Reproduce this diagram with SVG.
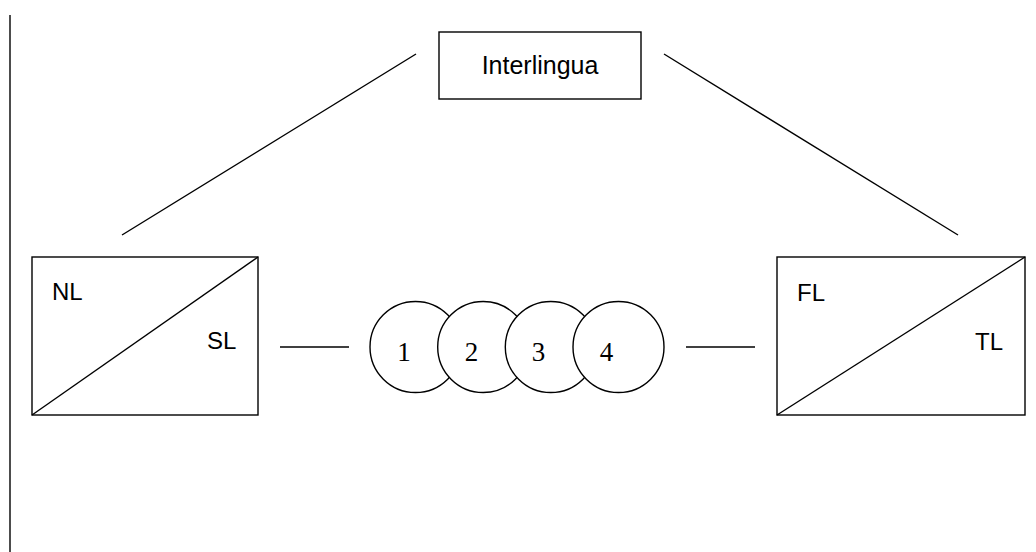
<svg xmlns="http://www.w3.org/2000/svg" width="1036" height="552" viewBox="0 0 1036 552">
<style>
.s{fill:none;stroke:#000;stroke-width:1.4}
.w{fill:#fff;stroke:#000;stroke-width:1.4}
.t{font-family:"Liberation Sans",Arial,sans-serif;font-size:24px;fill:#000}
.d{font-family:"Liberation Serif","Times New Roman",serif;font-size:27px;fill:#000;text-anchor:middle}
</style>
<rect width="1036" height="552" fill="#fff"/>
<line class="s" x1="10" y1="15" x2="10" y2="552"/>
<g id="connectors">
<line class="s" x1="416" y1="54" x2="122" y2="235"/>
<line class="s" x1="664" y1="54" x2="958" y2="235"/>
<line class="s" x1="280" y1="347" x2="349" y2="347"/>
<line class="s" x1="686" y1="347" x2="755" y2="347"/>
</g>
<g id="interlingua">
<rect class="w" x="439" y="32" width="202" height="67"/>
<text class="t" x="540" y="74" text-anchor="middle" style="font-size:25px">Interlingua</text>
</g>
<g id="source">
<rect class="w" x="32" y="257" width="226" height="158"/>
<line class="s" x1="32" y1="415" x2="258" y2="257"/>
<text class="t" x="52" y="300">NL</text>
<text class="t" x="207" y="349">SL</text>
</g>
<g id="target">
<rect class="w" x="777" y="257" width="248" height="158"/>
<line class="s" x1="777" y1="415" x2="1025" y2="257"/>
<text class="t" x="797" y="301">FL</text>
<text class="t" x="975" y="350">TL</text>
</g>
<g id="stage1"><circle class="w" cx="415.5" cy="347" r="45.5"/><text class="d" x="404" y="361">1</text></g>
<g id="stage2"><circle class="w" cx="483.2" cy="347" r="45.5"/><text class="d" x="471.5" y="361">2</text></g>
<g id="stage3"><circle class="w" cx="550.8" cy="347" r="45.5"/><text class="d" x="538.5" y="361">3</text></g>
<g id="stage4"><circle class="w" cx="618.5" cy="347" r="45.5"/><text class="d" x="606.5" y="361">4</text></g>
</svg>
